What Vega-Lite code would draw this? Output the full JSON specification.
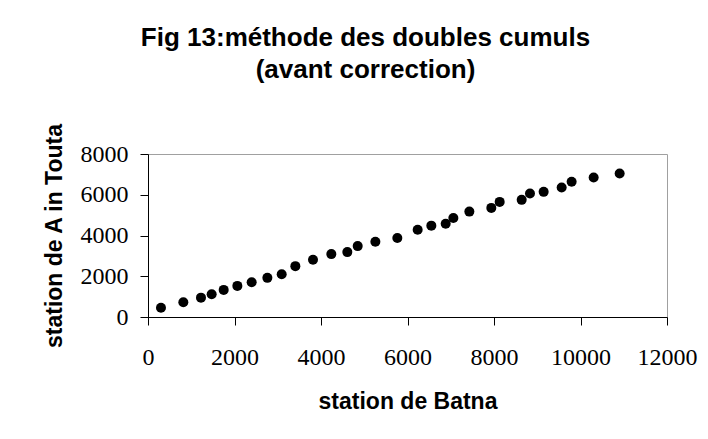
{
  "$schema": "https://vega.github.io/schema/vega-lite/v6.json",
  "width": 519,
  "height": 163,
  "autosize": {"type": "none"},
  "padding": {"left": 148, "top": 154, "right": 41, "bottom": 122},
  "background": "white",
  "title": {
    "text": ["Fig 13:méthode des doubles cumuls", "(avant correction)"],
    "font": "Liberation Sans",
    "fontSize": 26,
    "fontWeight": "bold",
    "color": "black",
    "anchor": "middle",
    "frame": "group",
    "baseline": "alphabetic",
    "lineHeight": 32,
    "offset": 70,
    "dx": -42,
    "dy": 51
  },
  "config": {
    "view": {"stroke": "#a0a0a0", "strokeWidth": 1},
    "axis": {
      "grid": false,
      "domainColor": "black",
      "tickColor": "black",
      "tickSize": 8,
      "labelFont": "Liberation Serif",
      "labelFontSize": 24,
      "labelColor": "black",
      "titleFont": "Liberation Sans",
      "titleFontSize": 23,
      "titleFontWeight": "bold",
      "titleColor": "black"
    }
  },
  "data": {
    "values": [
      {"batna": 300, "aintouta": 450},
      {"batna": 817, "aintouta": 723},
      {"batna": 1225, "aintouta": 950},
      {"batna": 1472, "aintouta": 1117},
      {"batna": 1750, "aintouta": 1330},
      {"batna": 2066, "aintouta": 1527},
      {"batna": 2397, "aintouta": 1707},
      {"batna": 2760, "aintouta": 1921},
      {"batna": 3091, "aintouta": 2102},
      {"batna": 3407, "aintouta": 2496},
      {"batna": 3815, "aintouta": 2808},
      {"batna": 4239, "aintouta": 3087},
      {"batna": 4609, "aintouta": 3185},
      {"batna": 4848, "aintouta": 3480},
      {"batna": 5257, "aintouta": 3694},
      {"batna": 5765, "aintouta": 3875},
      {"batna": 6235, "aintouta": 4286},
      {"batna": 6551, "aintouta": 4483},
      {"batna": 6883, "aintouta": 4581},
      {"batna": 7060, "aintouta": 4862},
      {"batna": 7430, "aintouta": 5172},
      {"batna": 7938, "aintouta": 5355},
      {"batna": 8131, "aintouta": 5650},
      {"batna": 8640, "aintouta": 5749},
      {"batna": 8832, "aintouta": 6059},
      {"batna": 9148, "aintouta": 6142},
      {"batna": 9564, "aintouta": 6355},
      {"batna": 9795, "aintouta": 6635},
      {"batna": 10304, "aintouta": 6847},
      {"batna": 10905, "aintouta": 7044}
    ]
  },
  "mark": {"type": "point", "filled": true, "shape": "circle", "size": 100, "color": "black", "opacity": 1},
  "encoding": {
    "x": {
      "field": "batna",
      "type": "quantitative",
      "scale": {"domain": [0, 12000], "nice": false, "zero": true},
      "axis": {
        "title": "station de Batna",
        "values": [0, 2000, 4000, 6000, 8000, 10000, 12000],
        "format": "d",
        "labelPadding": 20,
        "labelFlush": false,
        "labelOverlap": false,
        "titleBaseline": "alphabetic",
        "titleY": 91
      }
    },
    "y": {
      "field": "aintouta",
      "type": "quantitative",
      "scale": {"domain": [0, 8000], "nice": false},
      "axis": {
        "title": "station de A in Touta",
        "values": [0, 2000, 4000, 6000, 8000],
        "format": "d",
        "labelPadding": 12,
        "labelFlush": false,
        "labelOverlap": false,
        "titleBaseline": "alphabetic",
        "titleX": -87
      }
    }
  }
}
